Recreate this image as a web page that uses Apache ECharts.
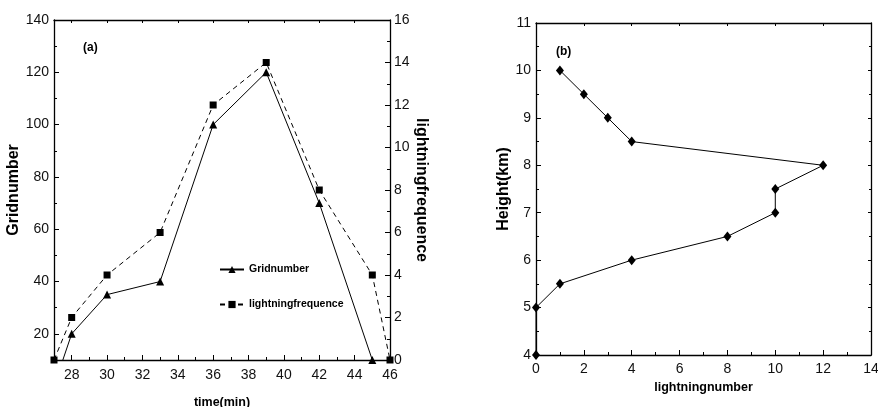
<!DOCTYPE html>
<html><head><meta charset="utf-8">
<script src="https://cdn.jsdelivr.net/npm/echarts@6/dist/echarts.min.js"></script>
<style>html,body{margin:0;padding:0;background:#fff}#c{width:878px;height:407px}</style>
</head><body><div id="c"></div>
<script>
// Panel (a)
const timeMin = [27, 28, 30, 33, 36, 39, 42, 45, 46];
const gridNumber = [0, 20, 35, 40, 100, 120, 70, 10, null];
const lightningFreq = [0, 2, 4, 6, 12, 14, 8, 4, 0];
const xTicksA = [28, 30, 32, 34, 36, 38, 40, 42, 44, 46];
const xMinorA = [27, 29, 31, 33, 35, 37, 39, 41, 43, 45];
const yTicksA = [20, 40, 60, 80, 100, 120, 140];
const yMinorA = [10, 30, 50, 70, 90, 110, 130];
// Panel (b)
const lightningNumber = [0, 0, 1, 4, 8, 10, 10, 12, 4, 3, 2, 1];
const heightKm = [4, 5, 5.5, 6, 6.5, 7, 7.5, 8, 8.5, 9, 9.5, 10];

const SANS = '"Liberation Sans",Arial,sans-serif';
const lineBlack = {show: true, onZero: false, lineStyle: {color: '#000', width: 1.3}};
const tickLab = {color: '#111', fontFamily: SANS, fontSize: 14};
const tk = (len, extra) => Object.assign({inside: true, length: len, lineStyle: {color: '#000'}}, extra || {});

const chart = echarts.init(document.getElementById('c'), null, {renderer: 'canvas'});
chart.setOption({
  animation: false,
  backgroundColor: '#fff',
  grid: [
    {left: 54, right: 488, top: 20, bottom: 47, outerBoundsMode: 'none', containLabel: false},
    {left: 536, right: 7, top: 23, bottom: 52, outerBoundsMode: 'none', containLabel: false}
  ],
  legend: {
    left: 214, top: 259, orient: 'vertical', itemGap: 24, itemWidth: 24, itemHeight: 9,
    textStyle: {color: '#000', fontFamily: SANS, fontWeight: 'bold', fontSize: 10.5},
    data: ['Gridnumber', 'lightningfrequence']
  },
  xAxis: [
    {gridIndex: 0, type: 'value', min: 27, max: 46, position: 'bottom',
     axisLine: lineBlack,
     axisTick: tk(5, {customValues: xTicksA}),
     axisLabel: Object.assign({customValues: xTicksA, margin: 8}, tickLab),
     splitLine: {show: false},
     name: 'time(min)', nameLocation: 'middle', nameGap: 36,
     nameTextStyle: {fontFamily: SANS, fontWeight: 'bold', fontSize: 12.5, color: '#000'}},
    {gridIndex: 0, type: 'value', min: 27, max: 46, position: 'bottom',
     axisLine: {show: false, onZero: false},
     axisTick: tk(3, {customValues: xMinorA}),
     axisLabel: {show: false, customValues: xMinorA}, splitLine: {show: false}},
    {gridIndex: 0, type: 'value', min: 27, max: 46, position: 'top',
     axisLine: lineBlack, axisTick: tk(3, {customValues: xTicksA}),
     axisLabel: {show: false, customValues: xTicksA}, splitLine: {show: false}},
    {gridIndex: 1, type: 'value', min: 0, max: 14, interval: 2, position: 'bottom',
     axisLine: lineBlack,
     axisTick: tk(5),
     minorTick: {show: true, splitNumber: 2, length: 3, lineStyle: {color: '#000'}},
     axisLabel: Object.assign({margin: 7}, tickLab),
     splitLine: {show: false},
     name: 'lightningnumber', nameLocation: 'middle', nameGap: 17,
     nameTextStyle: {fontFamily: SANS, fontWeight: 'bold', fontSize: 12.5, color: '#000'}},
    {gridIndex: 1, type: 'value', min: 0, max: 14, interval: 2, position: 'top',
     axisLine: lineBlack, axisTick: tk(3), axisLabel: {show: false}, splitLine: {show: false}}
  ],
  yAxis: [
    {gridIndex: 0, type: 'value', min: 10, max: 140, position: 'left',
     axisLine: lineBlack,
     axisTick: tk(5, {customValues: yTicksA}),
     axisLabel: Object.assign({customValues: yTicksA, margin: 5}, tickLab),
     splitLine: {show: false},
     name: 'Gridnumber', nameLocation: 'middle', nameGap: 23, nameRotate: 90,
     nameTextStyle: {fontFamily: SANS, fontWeight: 'bold', fontSize: 16, color: '#000'}},
    {gridIndex: 0, type: 'value', min: 10, max: 140, position: 'left',
     axisLine: {show: false, onZero: false},
     axisTick: tk(3, {customValues: yMinorA}),
     axisLabel: {show: false, customValues: yMinorA}, splitLine: {show: false}},
    {gridIndex: 0, type: 'value', min: 0, max: 16, interval: 2, position: 'right',
     axisLine: lineBlack,
     axisTick: tk(5),
     minorTick: {show: true, splitNumber: 2, length: 3, lineStyle: {color: '#000'}},
     axisLabel: Object.assign({margin: 4}, tickLab),
     splitLine: {show: false},
     name: 'lightningfrequence', nameLocation: 'middle', nameGap: 12, nameRotate: -90,
     nameTextStyle: {fontFamily: SANS, fontWeight: 'bold', fontSize: 16, color: '#000'}},
    {gridIndex: 1, type: 'value', min: 4, max: 11, interval: 1, position: 'left',
     axisLine: lineBlack,
     axisTick: tk(5),
     minorTick: {show: true, splitNumber: 2, length: 3, lineStyle: {color: '#000'}},
     axisLabel: Object.assign({margin: 5}, tickLab),
     splitLine: {show: false},
     name: 'Height(km)', nameLocation: 'middle', nameGap: 24, nameRotate: 90,
     nameTextStyle: {fontFamily: SANS, fontWeight: 'bold', fontSize: 16, color: '#000'}},
    {gridIndex: 1, type: 'value', min: 4, max: 11, interval: 1, position: 'right',
     axisLine: lineBlack,
     axisTick: tk(3),
     minorTick: {show: true, splitNumber: 2, length: 2, lineStyle: {color: '#000'}},
     axisLabel: {show: false}, splitLine: {show: false}}
  ],
  graphic: [
    {type: 'text', left: 83, top: 42, style: {text: '(a)', font: 'bold 12px ' + SANS, fill: '#000'}},
    {type: 'text', left: 556, top: 46, style: {text: '(b)', font: 'bold 12px ' + SANS, fill: '#000'}}
  ],
  series: [
    {name: 'Gridnumber', type: 'line', xAxisIndex: 0, yAxisIndex: 0,
     data: timeMin.map((t, i) => [t, gridNumber[i]]).filter(d => d[1] !== null),
     symbol: 'triangle', symbolSize: 8, showAllSymbol: true,
     lineStyle: {color: '#000', width: 1}, itemStyle: {color: '#000'}},
    {name: 'lightningfrequence', type: 'line', xAxisIndex: 0, yAxisIndex: 2,
     data: timeMin.map((t, i) => [t, lightningFreq[i]]),
     symbol: 'rect', symbolSize: 7, showAllSymbol: true,
     lineStyle: {color: '#000', width: 1, type: [5, 4]}, itemStyle: {color: '#000'}},
    {name: 'profile', type: 'line', xAxisIndex: 3, yAxisIndex: 3,
     data: heightKm.map((h, i) => [lightningNumber[i], h]),
     symbol: 'diamond', symbolSize: [8, 10], showAllSymbol: true,
     lineStyle: {color: '#000', width: 1}, itemStyle: {color: '#000'}}
  ]
});
</script></body></html>
